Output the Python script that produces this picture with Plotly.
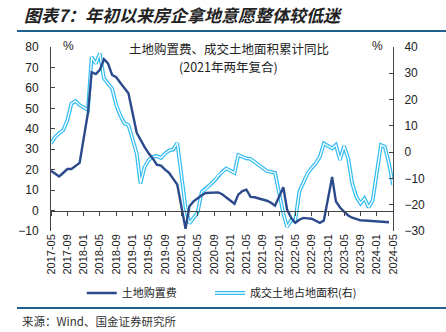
import plotly.graph_objects as go

# ---------------- data ----------------
months = ["2017-05", "2017-06", "2017-07", "2017-08", "2017-09", "2017-10", "2017-11", "2017-12",
          "2018-02", "2018-03", "2018-04", "2018-05", "2018-06", "2018-07", "2018-08", "2018-09",
          "2018-10", "2018-11", "2018-12",
          "2019-02", "2019-03", "2019-04", "2019-05", "2019-06", "2019-07", "2019-08", "2019-09",
          "2019-10", "2019-11", "2019-12",
          "2020-02", "2020-03", "2020-04", "2020-05", "2020-06", "2020-07", "2020-08", "2020-09",
          "2020-10", "2020-11", "2020-12",
          "2021-02", "2021-03", "2021-04", "2021-05", "2021-06", "2021-07", "2021-08", "2021-09",
          "2021-10", "2021-11", "2021-12",
          "2022-02", "2022-03", "2022-04", "2022-05", "2022-06", "2022-07", "2022-08", "2022-09",
          "2022-10", "2022-11", "2022-12",
          "2023-02", "2023-03", "2023-04", "2023-05", "2023-06", "2023-07", "2023-08", "2023-09",
          "2023-10", "2023-11", "2023-12",
          "2024-02", "2024-03", "2024-04"]

land_cost = [19.5, 18.0, 16.7, 18.5, 20.3, 20.3, 21.8, 23.3,
             47.7, 67.7, 66.8, 68.8, 74.0, 72.0, 66.3, 65.2,
             62.5, 60.0, 57.4,
             38.0, 34.6, 31.0, 28.0, 25.5, 22.4, 22.0, 20.0,
             18.4, 15.5, 12.7,
             -8.9, 2.1, 4.5, 6.2, 7.5, 8.6, 8.6, 8.7,
             8.9, 8.0, 6.5,
             3.3, 7.8, 9.5, 10.2, 6.7, 6.5, 6.0, 5.4,
             4.8, 3.8, 2.4,
             11.4, 0.5, -3.6, -6.0, -4.5, -3.6, -3.8, -4.0,
             -5.0, -6.0, -4.9,
             16.4, 4.5, 1.5, -0.5, -2.4, -3.5, -4.2, -4.8,
             -4.9, -5.0, -5.3,
             -5.5, -5.7, -5.7]

area_months = months + ["2024-05"]
land_area = [3.3, 5.8, 7.2, 8.4, 12.2, 18.5, 19.4, 17.9,
             16.0, 36.2, 33.7, 37.5, 28.0, 26.1, 24.2, 17.9,
             14.0, 11.0, 10.3,
             -0.5, -11.9, -5.6, -3.0, -1.8, -1.5, -2.2, -0.5,
             0.6, 1.0, 3.5,
             -21.0, -27.1, -25.0, -23.0, -15.1, -14.0, -12.5, -11.0,
             -9.0, -7.5, -6.2,
             -7.9, -1.1, -1.8, -2.4, -2.6, -3.7, -4.8, -6.0,
             -7.2, -7.5, -7.9,
             -23.3, -28.4, -25.9, -26.2, -15.0, -11.5, -8.1, -6.0,
             -4.3, -1.8, 3.3,
             1.4, 2.7, -3.0, 2.3, -2.4, -11.9, -17.0, -19.5,
             -17.6, -21.0, -18.3,
             2.7, 2.0, -4.3, -12.5]

name_cost = "土地购置费"
name_area = "成交土地占地面积(右)"

y_left = [-10, 80]
y_right = [-30, 40]

DARK = "#2B4A8C"
LIGHT = "#35BDF2"
CJK = "Noto Sans CJK SC"

fig = go.Figure()

# light (double) line: outer light blue + inner white
fig.add_trace(go.Scatter(x=area_months, y=land_area, name=name_area, mode="lines",
                         line=dict(color=LIGHT, width=3.8), yaxis="y2", xaxis="x",
                         legend="legend2", hoverinfo="skip"))
fig.add_trace(go.Scatter(x=area_months, y=land_area, name=name_area, mode="lines",
                         line=dict(color="white", width=1.3), yaxis="y2", xaxis="x",
                         legend="legend3", hoverinfo="skip"))
# dark line on top
fig.add_trace(go.Scatter(x=months, y=land_cost, name=name_cost, mode="lines",
                         line=dict(color=DARK, width=2.4), yaxis="y", xaxis="x2",
                         legend="legend"))

zero_pos = (0 - y_left[0]) / (y_left[1] - y_left[0])

axis_font = dict(family="Liberation Sans, Arial", size=12, color="#222")

fig.update_layout(
    width=446, height=332,
    margin=dict(l=51, r=53, t=47, b=101),
    paper_bgcolor="white", plot_bgcolor="rgba(0,0,0,0)",
    showlegend=True,
    xaxis=dict(type="date", range=["2017-05-01", "2024-05-01"],
               tick0="2017-05-01", dtick="M4", tickformat="%Y-%m",
               tickangle=-90, ticks="", showline=False, showgrid=False, zeroline=False,
               tickfont=dict(family="Liberation Sans, Arial", size=11, color="#222")),
    xaxis2=dict(type="date", matches="x", overlaying="x", anchor="free", position=zero_pos,
                tick0="2017-05-01", dtick="M4", showticklabels=False,
                ticks="outside", ticklen=4, tickcolor="#444",
                showline=True, linecolor="#444", linewidth=1, showgrid=False, zeroline=False),
    yaxis=dict(range=y_left, dtick=10, showgrid=False, zeroline=False,
               showline=True, linecolor="#444", linewidth=1,
               ticks="inside", ticklen=4, tickcolor="#444",
               tickfont=axis_font, ticklabelstandoff=9),
    yaxis2=dict(range=y_right, dtick=10, overlaying="y", side="right", anchor="x",
                showgrid=False, zeroline=False,
                showline=True, linecolor="#444", linewidth=1,
                ticks="inside", ticklen=4, tickcolor="#444",
                tickfont=axis_font, ticklabelstandoff=8),
    legend=dict(orientation="h", x=0.09, y=-0.337, xanchor="left", yanchor="middle",
                font=dict(family=CJK, size=11, color="#222"), bgcolor="rgba(0,0,0,0)"),
    legend2=dict(orientation="h", x=0.465, y=-0.337, xanchor="left", yanchor="middle",
                 font=dict(family=CJK, size=11, color="#222"), bgcolor="rgba(0,0,0,0)"),
    legend3=dict(orientation="h", x=0.465, y=-0.337, xanchor="left", yanchor="middle",
                 font=dict(family=CJK, size=11, color="rgba(0,0,0,0)"), bgcolor="rgba(0,0,0,0)"),
)

# header / footer lines
for yy in (1.087, -0.4185):
    fig.add_shape(type="line", xref="paper", yref="paper", x0=-0.0994, x1=1.155, y0=yy, y1=yy,
                  line=dict(color="#1F5F8B", width=2))

fig.add_annotation(text="<b><i>图表7：年初以来房企拿地意愿整体较低迷</i></b>", xref="paper", yref="paper",
                   x=-0.085, y=1.175, xanchor="left", yanchor="middle", showarrow=False,
                   font=dict(family=CJK, size=17, color="#222"))
fig.add_annotation(text="来源：Wind、国金证券研究所", xref="paper", yref="paper",
                   x=-0.09, y=-0.49, xanchor="left", yanchor="middle", showarrow=False,
                   font=dict(family=CJK, size=11.5, color="#333"))
fig.add_annotation(text="土地购置费、成交土地面积累计同比", xref="paper", yref="paper",
                   x=0.52, y=0.994, xanchor="center", yanchor="middle", showarrow=False,
                   font=dict(family=CJK, size=12.5, color="#222"))
fig.add_annotation(text="(2021年两年复合)", xref="paper", yref="paper",
                   x=0.52, y=0.894, xanchor="center", yanchor="middle", showarrow=False,
                   font=dict(family=CJK, size=12.5, color="#222"))
fig.add_annotation(text="%", xref="paper", yref="paper", x=0.05, y=1.005,
                   xanchor="center", yanchor="middle", showarrow=False, font=axis_font)
fig.add_annotation(text="%", xref="paper", yref="paper", x=0.956, y=1.005,
                   xanchor="center", yanchor="middle", showarrow=False, font=axis_font)

fig.write_html("out.html")
